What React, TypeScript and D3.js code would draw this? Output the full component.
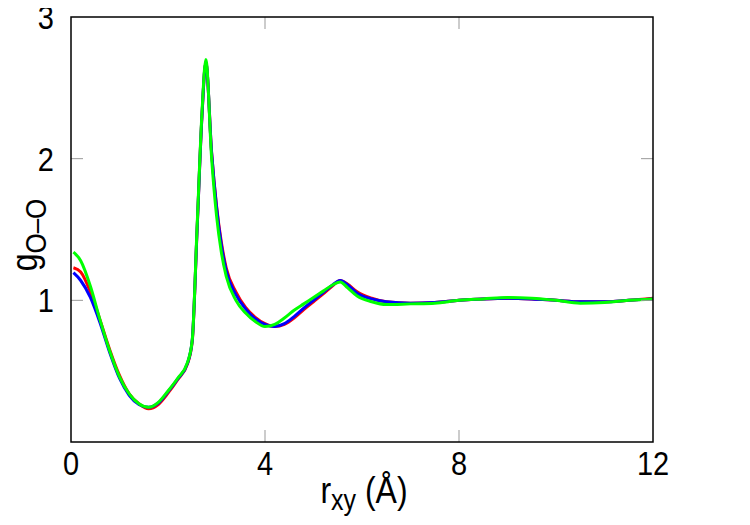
import React, { useRef, useEffect } from 'react';
import * as d3 from 'd3';

// r grid shared by all three curves (Å)
const rValues = [
  0.05, 0.2, 0.4, 0.6, 0.8, 1.0, 1.2, 1.4, 1.6, 1.8, 2.0, 2.2, 2.4, 2.5, 2.6, 2.7, 2.78,
  2.9, 3.0, 3.1, 3.2, 3.4, 3.6, 3.8, 4.0, 4.2, 4.4, 4.6, 4.8, 5.0, 5.2, 5.4, 5.55, 5.7,
  5.9, 6.2, 6.5, 7.0, 7.5, 8.0, 8.5, 9.0, 9.5, 10.0, 10.5, 11.0, 11.5, 12.0,
];

const redValues = [
  1.23, 1.2, 1.06, 0.86, 0.65, 0.47, 0.34, 0.27, 0.235, 0.265, 0.345, 0.44, 0.55, 0.71, 1.5, 2.3, 2.68,
  2.04, 1.67, 1.41, 1.23, 1.06, 0.95, 0.88, 0.835, 0.815, 0.83, 0.875, 0.935, 0.99, 1.045, 1.105, 1.14, 1.115,
  1.06, 1.015, 0.99, 0.98, 0.985, 1.0, 1.01, 1.015, 1.01, 1.0, 0.99, 0.99, 1.0, 1.015,
];

const blueValues = [
  1.195, 1.14, 1.02, 0.84, 0.63, 0.45, 0.33, 0.265, 0.245, 0.275, 0.355, 0.445, 0.555, 0.72, 1.5, 2.3, 2.68,
  2.04, 1.66, 1.39, 1.21, 1.04, 0.94, 0.87, 0.83, 0.815, 0.835, 0.885, 0.945, 1.0, 1.055, 1.11, 1.14, 1.11,
  1.05, 1.01, 0.99, 0.98, 0.985, 1.0, 1.01, 1.015, 1.01, 1.0, 0.99, 0.99, 1.0, 1.01,
];

const greenValues = [
  1.34, 1.28, 1.1, 0.86, 0.64, 0.46, 0.34, 0.27, 0.245, 0.28, 0.36, 0.45, 0.56, 0.72, 1.52, 2.32, 2.7,
  2.0, 1.6, 1.34, 1.17, 1.0, 0.91, 0.85, 0.815, 0.83, 0.875, 0.93, 0.975, 1.02, 1.065, 1.11, 1.13, 1.09,
  1.03, 0.99, 0.97, 0.975, 0.98, 1.0, 1.01, 1.02, 1.015, 1.0, 0.98, 0.985, 1.0, 1.01,
];

const series = [
  { name: 'red', color: '#ff0000', values: redValues },
  { name: 'blue', color: '#0000ff', values: blueValues },
  { name: 'green', color: '#00ff00', values: greenValues },
];

const xTicks = [0, 4, 8, 12];
const yTicks = [1, 2, 3];

export default function App() {
  const svgRef = useRef<SVGSVGElement | null>(null);

  useEffect(() => {
    if (!svgRef.current) return;
    const svg = d3.select(svgRef.current);
    svg.selectAll('*').remove();

    const margin = { top: 17, left: 71, right: 653, bottom: 442 };
    const font = 'Liberation Sans, Arial, sans-serif';
    const stretch = 1.15; // reference glyphs are a bit taller than wide

    const x = d3.scaleLinear().domain([0, 12]).range([margin.left, margin.right]);
    const y = d3.scaleLinear().domain([0, 3]).range([margin.bottom, margin.top]);

    // curves
    const line = d3
      .line<number>()
      .x((_, i) => x(rValues[i]))
      .y(d => y(d))
      .curve(d3.curveMonotoneX);

    const plot = svg.append('g');
    series.forEach(s => {
      plot
        .append('path')
        .datum(s.values)
        .attr('d', line)
        .attr('fill', 'none')
        .attr('stroke', s.color)
        .attr('stroke-width', 3)
        .attr('stroke-linejoin', 'round');
    });

    // inner ticks, mirrored on all four sides
    const tickLen = 12;
    const ticks = svg.append('g').attr('stroke', '#999').attr('stroke-width', 1);
    xTicks.filter(t => t > 0 && t < 12).forEach(t => {
      ticks.append('line').attr('x1', x(t)).attr('x2', x(t)).attr('y1', margin.bottom).attr('y2', margin.bottom - tickLen);
      ticks.append('line').attr('x1', x(t)).attr('x2', x(t)).attr('y1', margin.top).attr('y2', margin.top + tickLen);
    });
    yTicks.filter(t => t < 3).forEach(t => {
      ticks.append('line').attr('x1', margin.left).attr('x2', margin.left + tickLen).attr('y1', y(t)).attr('y2', y(t));
      ticks.append('line').attr('x1', margin.right).attr('x2', margin.right - tickLen).attr('y1', y(t)).attr('y2', y(t));
    });

    // frame
    svg
      .append('rect')
      .attr('x', margin.left)
      .attr('y', margin.top)
      .attr('width', margin.right - margin.left)
      .attr('height', margin.bottom - margin.top)
      .attr('fill', 'none')
      .attr('stroke', '#000')
      .attr('stroke-width', 1.5);

    // tick labels
    svg
      .append('g')
      .selectAll('text')
      .data(xTicks)
      .join('text')
      .attr('transform', d => `translate(${x(d)},475) scale(1,${stretch})`)
      .attr('text-anchor', 'middle')
      .attr('font-family', font)
      .attr('font-size', 29)
      .text(d => d);

    svg
      .append('g')
      .selectAll('text')
      .data(yTicks)
      .join('text')
      .attr('transform', d => `translate(54,${y(d) + 12}) scale(1,${stretch})`)
      .attr('text-anchor', 'end')
      .attr('font-family', font)
      .attr('font-size', 29)
      .text(d => d);

    // axis titles
    const xTitle = svg
      .append('text')
      .attr('transform', `translate(364,503) scale(1,${stretch})`)
      .attr('text-anchor', 'middle')
      .attr('font-family', font)
      .attr('font-size', 32);
    xTitle.append('tspan').text('r');
    xTitle.append('tspan').attr('dy', 6).attr('font-size', 25).text('xy');
    xTitle.append('tspan').attr('dy', -6).text(' (Å)');

    const yTitle = svg
      .append('text')
      .attr('transform', `translate(37,235) rotate(-90) scale(1,${stretch})`)
      .attr('text-anchor', 'middle')
      .attr('font-family', font)
      .attr('font-size', 32);
    yTitle.append('tspan').text('g');
    yTitle.append('tspan').attr('dy', 8).attr('font-size', 26).text('O–O');
  }, []);

  return <svg ref={svgRef} width={750} height={525} style={{ display: 'block', margin: -8 }} />;
}
